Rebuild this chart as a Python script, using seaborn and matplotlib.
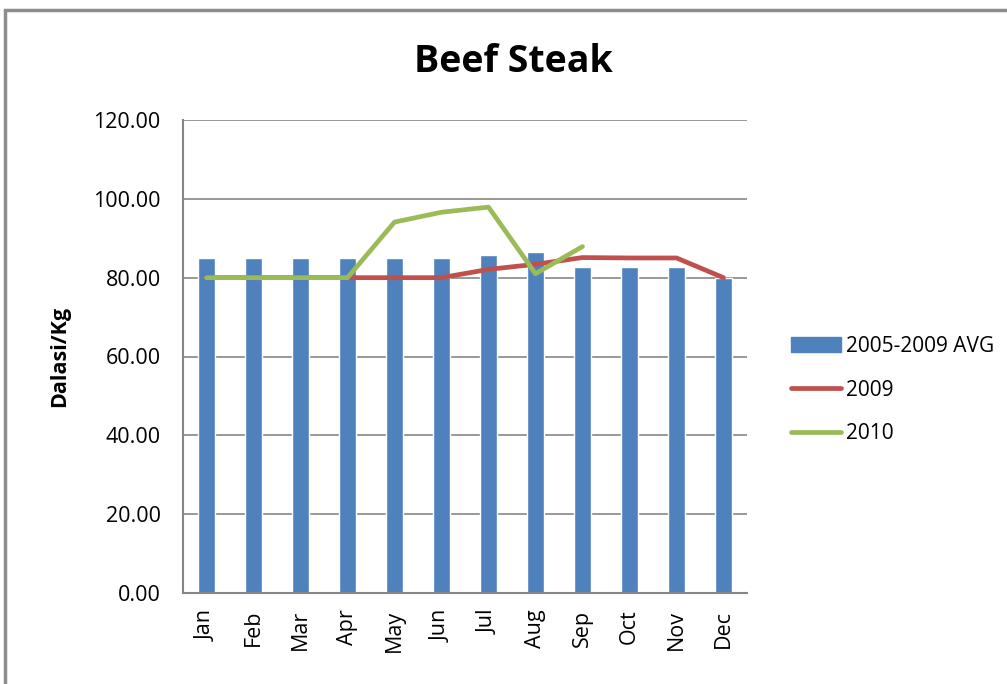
import numpy as np
import pandas as pd
import seaborn as sns
import matplotlib
matplotlib.use('Agg')
import matplotlib.pyplot as plt
from matplotlib.patches import Rectangle
from matplotlib.lines import Line2D

months = ['Jan', 'Feb', 'Mar', 'Apr', 'May', 'Jun', 'Jul', 'Aug', 'Sep', 'Oct', 'Nov', 'Dec']
avg_0509 = [85.0, 85.0, 85.0, 85.0, 85.0, 85.0, 85.8, 86.6, 82.6, 82.6, 82.6, 80.0]
price_2009 = [80.0, 80.0, 80.0, 80.0, 80.0, 80.0, 82.1, 83.4, 85.1, 85.0, 85.0, 80.0]
price_2010 = [80.0, 80.0, 80.0, 80.0, 94.1, 96.6, 97.9, 81.0, 87.9, np.nan, np.nan, np.nan]

bar_col = '#4F81BD'
red = '#C0504D'
green = '#9BBB59'
grid_col = '#868686'

sns.set_theme(style='white')
plt.rcParams['font.family'] = ['Open Sans', 'DejaVu Sans']
plt.rcParams['text.color'] = 'black'
plt.rcParams['xtick.color'] = 'black'
plt.rcParams['ytick.color'] = 'black'
plt.rcParams['axes.labelcolor'] = 'black'

df = pd.DataFrame({'month': months, 'avg': avg_0509, 'y2009': price_2009, 'y2010': price_2010})
df['pos'] = np.arange(len(df))

fig = plt.figure(figsize=(10.07, 6.84), dpi=100)
ax = fig.add_axes([183 / 1007, 1 - 593 / 684, (747 - 183) / 1007, (593 - 120) / 684])

sns.barplot(data=df, x='month', y='avg', color=bar_col, width=0.37, saturation=1, ax=ax, zorder=2)
sns.lineplot(data=df, x='pos', y='y2009', color=red, lw=3.4, ax=ax, zorder=3)
sns.lineplot(data=df.dropna(), x='pos', y='y2010', color=green, lw=3.4, ax=ax, zorder=4)

ax.set_xlim(-0.5, len(months) - 0.5)
ax.set_ylim(0, 120)
ax.set_yticks(np.arange(0, 121, 20))
ax.set_yticklabels([f'{v:.2f}' for v in np.arange(0, 121, 20)], fontsize=15.5)
ax.set_xticks(df['pos'])
ax.set_xticklabels(months, rotation=90, fontsize=15.5)
ax.set_xticks(np.arange(-0.5, len(months), 1), minor=True)
ax.tick_params(axis='x', which='major', length=0, pad=12)
ax.tick_params(axis='x', which='minor', length=7, width=1.2, color=grid_col, direction='out')
ax.tick_params(axis='y', length=6, width=1.2, color=grid_col, direction='out', pad=10)
ax.yaxis.grid(True, color=grid_col, lw=1.2, zorder=0)
ax.set_axisbelow(True)
for s in ['top', 'right']:
    ax.spines[s].set_visible(False)
for s in ['left', 'bottom']:
    ax.spines[s].set_color(grid_col)
    ax.spines[s].set_linewidth(1.5)
ax.set_xlabel('')
ax.set_ylabel('Dalasi/Kg', fontsize=15.5, fontweight='bold', labelpad=17)

fig.text(513 / 1007, 1 - 62 / 684, 'Beef Steak', fontsize=27, fontweight='bold', ha='center', va='center')

handles = [Rectangle((0, 0), 1, 1, color=bar_col),
           Line2D([], [], color=red, lw=3.4),
           Line2D([], [], color=green, lw=3.4)]
fig.legend(handles, ['2005-2009 AVG', '2009', '2010'], loc='center left',
           bbox_to_anchor=(772 / 1007, 1 - 390 / 684), frameon=False, fontsize=15,
           handlelength=2.4, handleheight=0.7, handletextpad=0.25, labelspacing=1.1)

fig.patches.append(Rectangle((5 / 1007, -0.1), 1.2, 1 - 10 / 684 + 0.1, transform=fig.transFigure,
                             fill=False, edgecolor='#8C8C8C', lw=2.5))

fig.savefig('out.png', dpi=100)
